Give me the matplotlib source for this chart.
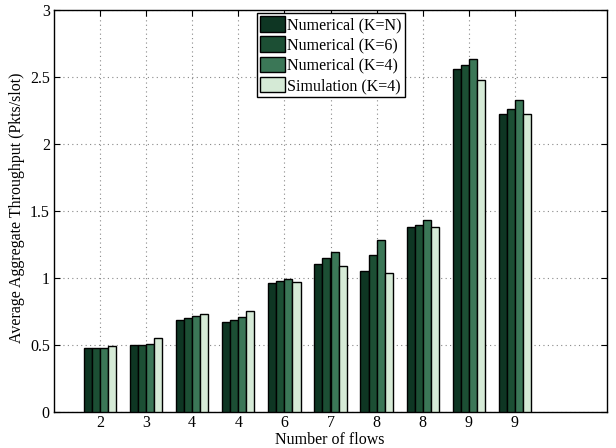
import matplotlib
matplotlib.use("Agg")
import matplotlib.pyplot as plt
import numpy as np

plt.rcParams['font.family'] = ['Liberation Serif', 'DejaVu Serif']
plt.rcParams['mathtext.fontset'] = 'stix'

tick_labels = ["2", "3", "4", "4", "6", "7", "8", "8", "9", "9"]
series_names = ["Numerical (K=N)", "Numerical (K=6)", "Numerical (K=4)", "Simulation (K=4)"]
num_kn = [0.475, 0.498, 0.684, 0.672, 0.965, 1.104, 1.055, 1.378, 2.557, 2.226]
num_k6 = [0.475, 0.502, 0.699, 0.687, 0.977, 1.149, 1.174, 1.395, 2.592, 2.263]
num_k4 = [0.475, 0.507, 0.716, 0.711, 0.995, 1.196, 1.284, 1.435, 2.634, 2.326]
sim_k4 = [0.493, 0.555, 0.729, 0.751, 0.973, 1.092, 1.035, 1.378, 2.478, 2.224]
colors = ["#0e3623", "#1c4f34", "#3b7757", "#d5ead6"]

fig = plt.figure(figsize=(6.16, 4.48), dpi=100)
ax = fig.add_axes([54/616, 1-412/448, (607-54)/616, (412-10)/448])

x = np.arange(1, len(tick_labels) + 1)
w = 0.175
data = [num_kn, num_k6, num_k4, sim_k4]
for i, (vals, c, name) in enumerate(zip(data, colors, series_names)):
    ax.bar(x + (i - 1.5) * w, vals, width=w, color=c, edgecolor="black",
           linewidth=1.0, label=name, zorder=3)

ax.set_xlim(0, 12)
ax.set_ylim(0, 3)
ax.set_xticks(x)
ax.set_xticklabels(tick_labels)
ax.set_yticks([0, 0.5, 1, 1.5, 2, 2.5, 3])
ax.set_yticklabels(["0", "0.5", "1", "1.5", "2", "2.5", "3"])
ax.tick_params(direction="in", top=True, right=True, labelsize=11.5, length=4, width=0.8)
ax.tick_params(axis="x", pad=2.5)
ax.tick_params(axis="y", pad=3)
ax.grid(True, linestyle=(0, (1, 3)), color="#888888", linewidth=0.8, zorder=0)
for s in ax.spines.values():
    s.set_linewidth(1.0)

ax.set_xlabel("Number of flows", fontsize=11.5)
ax.xaxis.set_label_coords((330-54)/553, -(432-412)/402)
ax.set_ylabel("Average Aggregate Throughput (Pkts/slot)", fontsize=11.4)
ax.yaxis.set_label_coords((25-54)/553, (412-208)/402)

leg = ax.legend(loc="upper left", bbox_to_anchor=(257/616, 1-13/448),
                bbox_transform=fig.transFigure, fontsize=11.5, frameon=True,
                fancybox=False, edgecolor="black", framealpha=1,
                handlelength=1.55, handleheight=1.1, handletextpad=0.15,
                borderpad=0.2, labelspacing=0.2, borderaxespad=0)
leg.get_frame().set_linewidth(1.0)

fig.savefig("out.png", dpi=100)
